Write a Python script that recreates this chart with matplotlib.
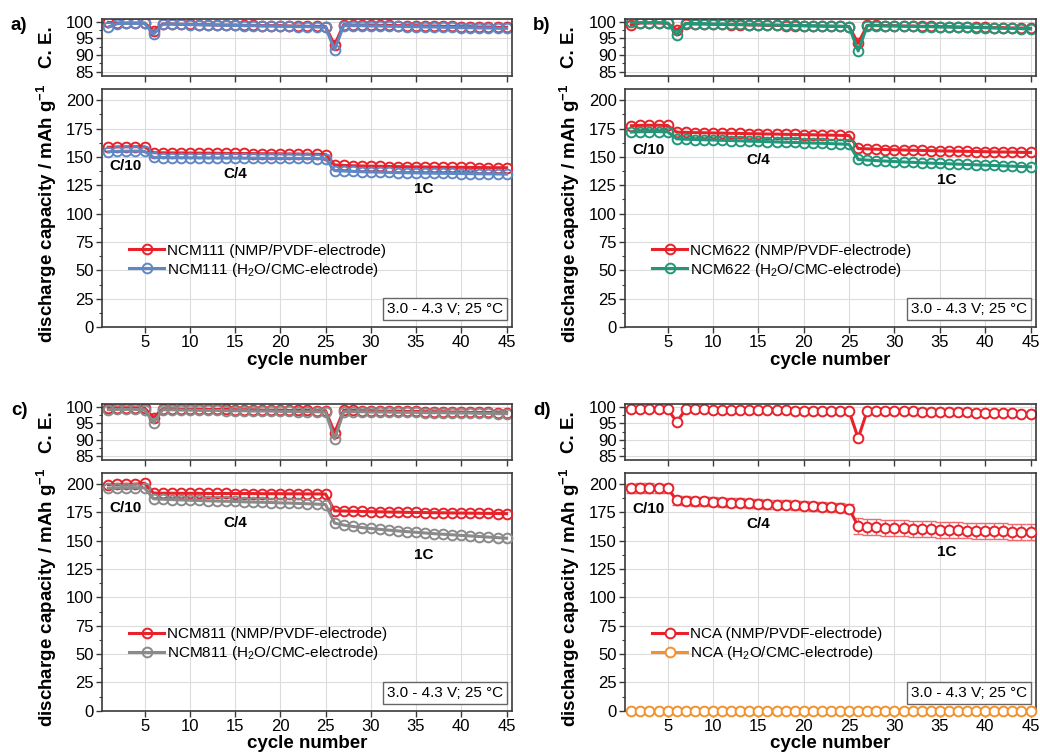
import matplotlib
matplotlib.use("Agg")
import matplotlib.pyplot as plt
from matplotlib.ticker import MultipleLocator

plt.rcParams['font.family'] = ['Liberation Sans', 'DejaVu Sans']
plt.rcParams['mathtext.fontset'] = 'custom'
plt.rcParams['mathtext.rm'] = 'Liberation Sans'
plt.rcParams['mathtext.it'] = 'Liberation Sans:italic'
plt.rcParams['mathtext.bf'] = 'Liberation Sans:bold'

cycles = list(range(1, 46))
xticks = [5, 10, 15, 20, 25, 30, 35, 40, 45]
rate_labels = ['C/10', 'C/4', '1C']
condition_text = '3.0 - 4.3 V; 25 °C'

# ---------------- NCM111 ----------------
ncm111_pvdf_cap = [158.6, 158.9, 159.0, 159.1, 159.0,
                   153.8, 153.7, 153.6, 153.6, 153.5, 153.4, 153.4, 153.3, 153.2, 153.1,
                   153.1, 153.0, 152.9, 152.9, 152.8, 152.7, 152.6, 152.5, 152.4, 152.2,
                   143.0, 142.6, 142.3, 142.1, 141.9, 141.8, 141.6, 141.5, 141.4, 141.3,
                   141.2, 141.1, 141.0, 140.9, 140.9, 140.8, 140.7, 140.6, 140.6, 140.5]
ncm111_cmc_cap = [154.6, 155.0, 155.1, 155.2, 155.1,
                  149.6, 149.5, 149.4, 149.4, 149.3, 149.3, 149.2, 149.2, 149.1, 149.1,
                  149.0, 149.0, 148.9, 148.9, 148.8, 148.8, 148.7, 148.7, 148.6, 148.5,
                  138.0, 137.6, 137.3, 137.0, 136.8, 136.6, 136.4, 136.2, 136.1, 136.0,
                  135.8, 135.7, 135.6, 135.5, 135.4, 135.3, 135.2, 135.1, 135.0, 134.9]
ncm111_pvdf_ce = [99.8, 99.6, 99.6, 99.6, 99.6,
                  97.3,
                  99.3, 99.3, 99.2, 99.2, 99.1, 99.1, 99.0, 99.0, 99.0, 98.9,
                  98.9, 98.8, 98.8, 98.8, 98.7, 98.7, 98.6, 98.6, 98.5,
                  93.0,
                  99.1, 99.0, 99.0, 99.0, 98.9, 98.9, 98.8, 98.8, 98.8, 98.7,
                  98.7, 98.6, 98.6, 98.5, 98.5, 98.4, 98.4, 98.3, 98.3]
ncm111_cmc_ce = [98.4, 99.4, 99.5, 99.5, 99.5,
                 96.2,
                 99.3, 99.3, 99.2, 99.1, 99.1, 99.0, 99.0, 98.9, 98.9, 98.8,
                 98.8, 98.7, 98.7, 98.6, 98.6, 98.5, 98.5, 98.4, 98.3,
                 91.6,
                 98.8, 98.8, 98.8, 98.7, 98.7, 98.6, 98.6, 98.5, 98.5, 98.4,
                 98.4, 98.3, 98.3, 98.2, 98.2, 98.1, 98.1, 98.0, 98.0]

# ---------------- NCM622 ----------------
ncm622_pvdf_cap = [177.6, 177.9, 178.0, 178.0, 177.8,
                   171.9, 171.7, 171.5, 171.4, 171.2, 171.1, 170.9, 170.8, 170.6, 170.5,
                   170.3, 170.2, 170.0, 169.9, 169.7, 169.6, 169.4, 169.3, 169.1, 168.9,
                   157.5, 157.2, 156.9, 156.6, 156.4, 156.2, 156.0, 155.8, 155.6, 155.4,
                   155.3, 155.1, 155.0, 154.8, 154.7, 154.5, 154.4, 154.3, 154.1, 154.0]
ncm622_cmc_cap = [172.0, 172.3, 172.4, 172.4, 172.2,
                  166.0, 165.7, 165.4, 165.2, 165.0, 164.7, 164.5, 164.3, 164.0, 163.8,
                  163.5, 163.3, 163.0, 162.8, 162.6, 162.3, 162.1, 161.8, 161.5, 161.2,
                  147.8, 147.3, 146.8, 146.4, 146.0, 145.6, 145.3, 144.9, 144.6, 144.3,
                  144.0, 143.7, 143.4, 143.1, 142.8, 142.5, 142.2, 141.9, 141.6, 141.3]
ncm622_pvdf_ce = [99.0, 99.6, 99.6, 99.6, 99.5,
                  97.5,
                  99.4, 99.3, 99.3, 99.2, 99.2, 99.1, 99.1, 99.0, 99.0, 98.9,
                  98.9, 98.8, 98.8, 98.8, 98.7, 98.7, 98.6, 98.6, 98.5,
                  93.5,
                  98.9, 98.9, 98.8, 98.8, 98.7, 98.7, 98.6, 98.6, 98.5, 98.5,
                  98.4, 98.4, 98.3, 98.3, 98.2, 98.2, 98.1, 98.1, 98.0]
ncm622_cmc_ce = [99.8, 99.7, 99.7, 99.7, 99.6,
                 96.0,
                 99.5, 99.4, 99.4, 99.3, 99.3, 99.2, 99.2, 99.1, 99.1, 99.0,
                 99.0, 98.9, 98.9, 98.8, 98.8, 98.7, 98.7, 98.6, 98.5,
                 91.2,
                 98.8, 98.8, 98.7, 98.7, 98.6, 98.6, 98.5, 98.5, 98.4, 98.4,
                 98.3, 98.3, 98.2, 98.2, 98.1, 98.0, 98.0, 97.9, 97.8]

# ---------------- NCM811 ----------------
ncm811_pvdf_cap = [199.5, 199.7, 199.8, 199.9, 200.7,
                   192.0, 191.9, 191.9, 191.8, 191.8, 191.8, 191.7, 191.7, 191.7, 191.6,
                   191.6, 191.6, 191.5, 191.5, 191.5, 191.4, 191.4, 191.3, 191.3, 191.2,
                   176.4, 176.2, 176.0, 175.8, 175.6, 175.5, 175.3, 175.2, 175.0, 174.9,
                   174.8, 174.7, 174.6, 174.5, 174.4, 174.3, 174.2, 174.1, 174.0, 173.9]
ncm811_cmc_cap = [196.4, 196.7, 196.8, 196.8, 196.6,
                  187.0, 186.6, 186.3, 186.0, 185.7, 185.5, 185.2, 185.0, 184.8, 184.6,
                  184.3, 184.1, 183.9, 183.7, 183.4, 183.2, 182.9, 182.6, 182.3, 181.9,
                  165.5, 163.8, 162.6, 161.6, 160.8, 160.0, 159.3, 158.6, 158.0, 157.4,
                  156.8, 156.2, 155.7, 155.2, 154.7, 154.2, 153.7, 153.2, 152.7, 152.2]
ncm811_pvdf_ce = [99.8, 99.8, 99.8, 99.8, 99.7,
                  96.8,
                  99.5, 99.5, 99.4, 99.4, 99.4, 99.3, 99.3, 99.3, 99.2, 99.2,
                  99.2, 99.1, 99.1, 99.1, 99.0, 99.0, 99.0, 98.9, 98.9,
                  92.2,
                  99.0, 99.0, 98.9, 98.9, 98.8, 98.8, 98.8, 98.7, 98.7, 98.6,
                  98.6, 98.6, 98.5, 98.5, 98.4, 98.4, 98.4, 98.3, 98.3]
ncm811_cmc_ce = [99.2, 99.3, 99.3, 99.3, 99.2,
                 95.2,
                 99.2, 99.2, 99.1, 99.1, 99.0, 99.0, 99.0, 98.9, 98.9, 98.9,
                 98.8, 98.8, 98.8, 98.7, 98.7, 98.6, 98.6, 98.6, 98.5,
                 90.3,
                 98.6, 98.6, 98.6, 98.5, 98.5, 98.5, 98.4, 98.4, 98.4, 98.3,
                 98.3, 98.3, 98.2, 98.2, 98.2, 98.1, 98.1, 98.0, 98.0]

# ---------------- NCA ----------------
nca_pvdf_cap = [196.3, 196.5, 196.5, 196.4, 196.2,
                185.6, 185.3, 184.9, 184.6, 184.3, 184.0, 183.6, 183.3, 183.0, 182.6,
                182.3, 181.9, 181.6, 181.2, 180.8, 180.4, 180.0, 179.5, 179.0, 178.4,
                162.6, 162.2, 161.8, 161.5, 161.2, 160.9, 160.6, 160.3, 160.0, 159.7,
                159.5, 159.2, 159.0, 158.8, 158.6, 158.4, 158.2, 158.0, 157.8, 157.6]
nca_pvdf_err = [4.0, 4.0, 4.0, 4.0, 4.0,
                4.0, 4.0, 4.0, 4.0, 4.0, 4.0, 4.0, 4.0, 4.0, 4.0,
                4.0, 4.0, 4.0, 4.0, 4.0, 4.0, 4.0, 4.0, 4.0, 4.0,
                7.0, 7.0, 7.0, 7.0, 7.0, 7.0, 7.0, 7.0, 7.0, 7.0,
                7.0, 7.0, 7.0, 7.0, 7.0, 7.0, 7.0, 7.0, 7.0, 7.0]
nca_cmc_cap = [0.0, 0.0, 0.0, 0.0, 0.0,
               0.0, 0.0, 0.0, 0.0, 0.0, 0.0, 0.0, 0.0, 0.0, 0.0,
               0.0, 0.0, 0.0, 0.0, 0.0, 0.0, 0.0, 0.0, 0.0, 0.0,
               0.0, 0.0, 0.0, 0.0, 0.0, 0.0, 0.0, 0.0, 0.0, 0.0,
               0.0, 0.0, 0.0, 0.0, 0.0, 0.0, 0.0, 0.0, 0.0, 0.0]
nca_pvdf_ce = [99.4, 99.4, 99.4, 99.4, 99.4,
               95.5,
               99.3, 99.3, 99.3, 99.2, 99.2, 99.2, 99.1, 99.1, 99.1, 99.0,
               99.0, 99.0, 98.9, 98.9, 98.9, 98.9, 98.8, 98.8, 98.8,
               90.5,
               98.9, 98.9, 98.8, 98.8, 98.7, 98.7, 98.6, 98.6, 98.5, 98.5,
               98.4, 98.4, 98.3, 98.3, 98.2, 98.1, 98.1, 98.0, 97.9]

RED = '#e8222b'
BLUE = '#5f87c4'
GREEN = '#21977a'
GREY = '#8a8a8a'
ORANGE = '#f2922f'

panels = [
    dict(tag='a)', name='NCM111', c1=RED, c2=BLUE,
         cap1=ncm111_pvdf_cap, cap2=ncm111_cmc_cap, ce1=ncm111_pvdf_ce, ce2=ncm111_cmc_ce,
         err1=None, rate_pos=[(2.87, 141.8), (15.0, 135.4), (35.8, 122.0)],
         pos_ce=[102, 19, 512, 76], pos_cap=[102, 89, 512, 327], fill='none'),
    dict(tag='b)', name='NCM622', c1=RED, c2=GREEN,
         cap1=ncm622_pvdf_cap, cap2=ncm622_cmc_cap, ce1=ncm622_pvdf_ce, ce2=ncm622_cmc_ce,
         err1=None, rate_pos=[(2.85, 156.0), (15.0, 147.0), (35.8, 129.5)],
         pos_ce=[625, 19, 1036, 76], pos_cap=[625, 89, 1036, 327], fill='none'),
    dict(tag='c)', name='NCM811', c1=RED, c2=GREY,
         cap1=ncm811_pvdf_cap, cap2=ncm811_cmc_cap, ce1=ncm811_pvdf_ce, ce2=ncm811_cmc_ce,
         err1=None, rate_pos=[(2.87, 179.0), (15.0, 166.0), (35.8, 137.0)],
         pos_ce=[102, 404.5, 512, 460.5], pos_cap=[102, 472.7, 512, 710.7], fill='none'),
    dict(tag='d)', name='NCA', c1=RED, c2=ORANGE,
         cap1=nca_pvdf_cap, cap2=nca_cmc_cap, ce1=nca_pvdf_ce, ce2=None,
         err1=nca_pvdf_err, rate_pos=[(2.85, 178.0), (15.0, 165.0), (35.8, 140.0)],
         pos_ce=[625, 404.5, 1036, 460.5], pos_cap=[625, 472.7, 1036, 710.7], fill='white'),
]

W, H = 1040, 756
fig = plt.figure(figsize=(W / 100, H / 100), dpi=100)


def px_axes(box):
    x0, y0, x1, y1 = box
    return fig.add_axes([x0 / W, 1 - y1 / H, (x1 - x0) / W, (y1 - y0) / H])


SPINE = '#3a3a3a'
GRID = '#dcdcdc'
TICKFS = 12
LABELFS = 13.5


def style(ax):
    for s in ax.spines.values():
        s.set_color(SPINE)
        s.set_linewidth(1.2)
    ax.tick_params(axis='both', which='major', direction='out', length=4, width=1,
                   color=SPINE, labelsize=TICKFS, pad=2)
    ax.tick_params(axis='y', which='minor', direction='out', length=2.5, width=0.8, color=SPINE)
    ax.grid(True, which='major', color=GRID, lw=0.8)
    ax.set_axisbelow(True)
    ax.set_xlim(0.3, 45.6)
    ax.set_xticks(xticks)


mk = dict(marker='o', ms=7, mew=1.4, lw=2.2)

for p in panels:
    ax_ce = px_axes(p['pos_ce'])
    ax_cap = px_axes(p['pos_cap'])
    style(ax_ce)
    style(ax_cap)

    # coulombic efficiency
    ax_ce.plot(cycles, p['ce1'], color=p['c1'], mfc=p['fill'], mec=p['c1'], **mk)
    if p['ce2'] is not None:
        ax_ce.plot(cycles, p['ce2'], color=p['c2'], mfc=p['fill'], mec=p['c2'], **mk)
    ax_ce.set_ylim(83.7, 100.8)
    ax_ce.set_yticks([85, 90, 95, 100])
    ax_ce.yaxis.set_minor_locator(MultipleLocator(2.5))
    ax_ce.tick_params(axis='x', labelbottom=False)

    # discharge capacity
    if p['err1'] is not None:
        ax_cap.errorbar(cycles, p['cap1'], yerr=p['err1'], fmt='none', ecolor='#ef6b6f',
                        elinewidth=1.0, capsize=3.5, capthick=1.0, zorder=2)
    l1, = ax_cap.plot(cycles, p['cap1'], color=p['c1'], mfc=p['fill'], mec=p['c1'],
                      zorder=3, **mk)
    l2, = ax_cap.plot(cycles, p['cap2'], color=p['c2'], mfc=p['fill'], mec=p['c2'],
                      zorder=4, clip_on=False, **mk)
    ax_cap.set_ylim(0, 210)
    ax_cap.set_yticks(range(0, 201, 25))
    ax_cap.yaxis.set_minor_locator(MultipleLocator(12.5))
    ax_cap.set_xlabel('cycle number', fontsize=LABELFS, fontweight='bold', labelpad=1)

    for txt, (xr, yr) in zip(rate_labels, p['rate_pos']):
        ax_cap.text(xr, yr, txt, fontsize=11, fontweight='bold', ha='center', va='center')

    ax_cap.legend([l1, l2],
                  [p['name'] + ' (NMP/PVDF-electrode)', p['name'] + ' (H$_2$O/CMC-electrode)'],
                  loc='upper left', bbox_to_anchor=(0.066, 0.35), frameon=False,
                  fontsize=11, handlelength=2.3, handletextpad=0.2, labelspacing=0.2,
                  borderpad=0, borderaxespad=0, numpoints=1)

    ax_cap.text(0.978, 0.045, condition_text, transform=ax_cap.transAxes, fontsize=11,
                ha='right', va='bottom',
                bbox=dict(boxstyle='square,pad=0.25', fc='white', ec='#666666', lw=1.0))

    # axis titles and panel tag
    xl = p['pos_ce'][0]
    ce_mid = (p['pos_ce'][1] + p['pos_ce'][3]) / 2
    cap_mid = (p['pos_cap'][1] + p['pos_cap'][3]) / 2
    fig.text((xl - 55) / W, 1 - ce_mid / H, 'C. E.', rotation=90, fontsize=LABELFS,
             fontweight='bold', ha='center', va='center')
    fig.text((xl - 55) / W, 1 - (cap_mid + 5) / H,
             r'discharge capacity / mAh g$^{\mathbf{-1}}$', rotation=90,
             fontsize=LABELFS, fontweight='bold', ha='center', va='center')
    fig.text((xl - 83) / W, 1 - (p['pos_ce'][1] + 6) / H, p['tag'], fontsize=LABELFS,
             fontweight='bold', ha='center', va='center')

fig.savefig('out.png', dpi=100)
